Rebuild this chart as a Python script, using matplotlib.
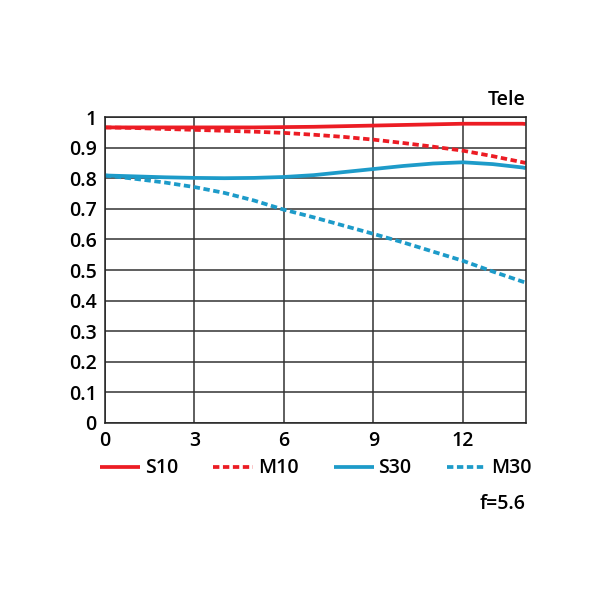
import matplotlib
matplotlib.use('Agg')
import matplotlib.pyplot as plt

plt.rcParams['font.family'] = ['Open Sans', 'DejaVu Sans']
plt.rcParams['font.weight'] = 'semibold'

# image height (mm)
x = [0, 1, 2, 3, 4, 5, 6, 7, 8, 9, 10, 11, 12, 13, 14, 14.1]

s10 = [0.966, 0.966, 0.966, 0.966, 0.966, 0.966, 0.967, 0.968, 0.970, 0.972,
       0.974, 0.976, 0.978, 0.978, 0.978, 0.977]
m10 = [0.966, 0.964, 0.961, 0.958, 0.955, 0.952, 0.948, 0.942, 0.935, 0.926,
       0.915, 0.903, 0.890, 0.872, 0.852, 0.850]
s30 = [0.809, 0.806, 0.803, 0.801, 0.800, 0.801, 0.804, 0.810, 0.820, 0.830,
       0.840, 0.848, 0.852, 0.846, 0.835, 0.833]
m30 = [0.809, 0.798, 0.786, 0.771, 0.752, 0.727, 0.697, 0.672, 0.645, 0.618,
       0.590, 0.560, 0.530, 0.495, 0.462, 0.459]

xticks = [0, 3, 6, 9, 12]
yticks = [0, 0.1, 0.2, 0.3, 0.4, 0.5, 0.6, 0.7, 0.8, 0.9, 1]
ylabels = ['0', '0.1', '0.2', '0.3', '0.4', '0.5', '0.6', '0.7', '0.8', '0.9', '1']

red = '#ec1c24'
blue = '#1d9bc9'
dash = (0, (1.7, 0.95))

fig = plt.figure(figsize=(6, 6), dpi=100)
ax = fig.add_axes([0.175, 0.295, 0.701, 0.51])

ax.plot(x, s10, color=red, lw=2.7, label='S10', solid_capstyle='butt')
ax.plot(x, m10, color=red, lw=2.7, ls=dash, label='M10')
ax.plot(x, s30, color=blue, lw=2.7, label='S30', solid_capstyle='butt')
ax.plot(x, m30, color=blue, lw=2.7, ls=dash, label='M30')

ax.set_xlim(0, 14.1)
ax.set_ylim(0, 1)
ax.set_xticks(xticks)
ax.set_yticks(yticks)
ax.set_yticklabels(ylabels)
ax.tick_params(length=0, labelsize=14, pad=6)
ax.grid(True, color='#333333', lw=1.1)
ax.set_axisbelow(True)
for sp in ax.spines.values():
    sp.set_color('#222222')
    sp.set_linewidth(1.1)

ax.text(1.0, 1.024, 'Tele', transform=ax.transAxes, ha='right', va='bottom', fontsize=14)
ax.legend(ncol=4, loc='upper center', bbox_to_anchor=(0.502, -0.09), frameon=False,
          fontsize=14, handlelength=2.05, handletextpad=0.25, columnspacing=1.8,
          borderaxespad=0)
fig.text(0.876, 0.143, 'f=5.6', ha='right', va='bottom', fontsize=14)

fig.savefig('out.png', dpi=100, facecolor='white')
